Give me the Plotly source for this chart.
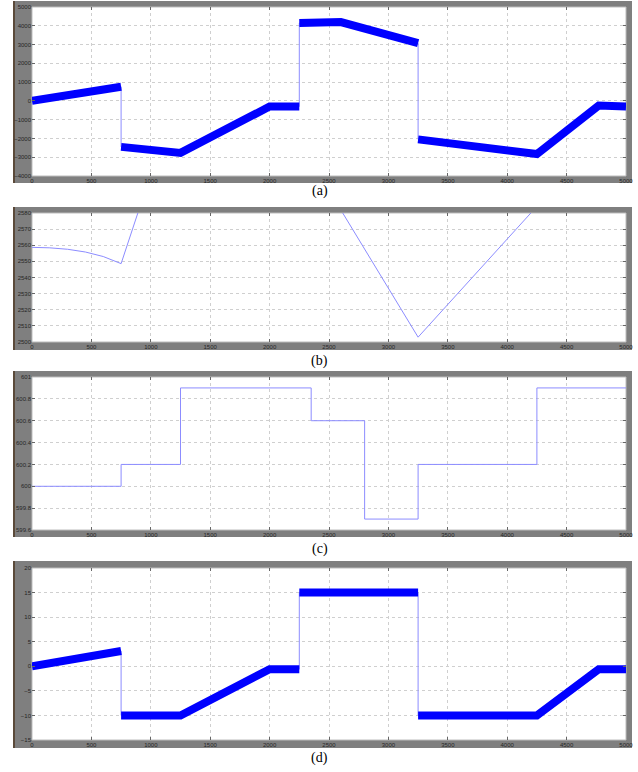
import plotly.graph_objects as go

# ---------------- data ----------------
x_ticks = [0, 500, 1000, 1500, 2000, 2500, 3000, 3500, 4000, 4500, 5000]

# (a)
a_t = [0, 750, 750, 1250, 2000, 2250, 2250, 2400, 2600, 3250, 3250, 4250, 4770, 5000]
a_v = [0, 750, -2450, -2770, -300, -300, 4150, 4200, 4200, 3080, -2050, -2830, -250, -300]
a_ticks = [-4000, -3000, -2000, -1000, 0, 1000, 2000, 3000, 4000, 5000]
a_range = [-4000, 5000]

# (b)
b_t = [0, 150, 300, 450, 600, 750, 1250, 2500, 3250, 5000]
b_v = [2558.7, 2558.4, 2557.5, 2555.8, 2553.0, 2548.6, 2660, 2594, 2503, 2645]
b_ticks = [2500, 2510, 2520, 2530, 2540, 2550, 2560, 2570, 2580]
b_range = [2500, 2580]

# (c)
c_t = [0, 750, 1250, 2350, 2800, 3250, 4250, 5000]
c_v = [600.0, 600.2, 600.9, 600.6, 599.7, 600.2, 600.9, 600.9]
c_ticks = [599.6, 599.8, 600.0, 600.2, 600.4, 600.6, 600.8, 601.0]
c_ticktext = ["599.6", "599.8", "600", "600.2", "600.4", "600.6", "600.8", "601"]
c_range = [599.6, 601]

# (d)
d_t = [0, 750, 750, 1250, 2000, 2250, 2250, 3250, 3250, 4250, 4770, 5000]
d_v = [0, 3.1, -10, -10, -0.6, -0.6, 15, 15, -10, -10, -0.6, -0.6]
d_ticks = [-15, -10, -5, 0, 5, 10, 15, 20]
d_range = [-15, 20]

captions = ["(a)", "(b)", "(c)", "(d)"]

# ---------------- layout geometry (pixels) ----------------
W, H = 638, 772
plot_x = (32, 626)
frame_x = (13, 632)
plots_y = [(7, 176), (213, 342), (377, 530), (568, 740)]
frames_y = [(1, 183), (207, 350), (371, 537), (561, 748)]
caption_y = [191, 361, 549, 758]


def px(x):
    return x / W


def py(y):
    return 1 - y / H


def thick_segments(t, v):
    """Split a path at vertical jumps (equal successive t) into separate pieces."""
    xs, ys = [], []
    for i in range(len(t)):
        if i > 0 and t[i] == t[i - 1]:
            xs.append(None)
            ys.append(None)
        xs.append(t[i])
        ys.append(v[i])
    return xs, ys


fig = go.Figure()

BLUE = "#0000ff"
LIGHT = "#8c8cff"

# (a)
fig.add_trace(go.Scatter(x=a_t, y=a_v, mode="lines", line=dict(color=LIGHT, width=1),
                         xaxis="x", yaxis="y", showlegend=False))
sx, sy = thick_segments(a_t, a_v)
fig.add_trace(go.Scatter(x=sx, y=sy, mode="lines", line=dict(color=BLUE, width=8),
                         xaxis="x", yaxis="y", showlegend=False, connectgaps=False))
# (b)
fig.add_trace(go.Scatter(x=b_t, y=b_v, mode="lines", line=dict(color=LIGHT, width=1),
                         xaxis="x2", yaxis="y2", showlegend=False))
# (c)
fig.add_trace(go.Scatter(x=c_t, y=c_v, mode="lines", line=dict(color=LIGHT, width=1, shape="hv"),
                         xaxis="x3", yaxis="y3", showlegend=False))
# (d)
fig.add_trace(go.Scatter(x=d_t, y=d_v, mode="lines", line=dict(color=LIGHT, width=1),
                         xaxis="x4", yaxis="y4", showlegend=False))
sx, sy = thick_segments(d_t, d_v)
fig.add_trace(go.Scatter(x=sx, y=sy, mode="lines", line=dict(color=BLUE, width=8),
                         xaxis="x4", yaxis="y4", showlegend=False, connectgaps=False))

tick_font = dict(family="Liberation Sans, Arial", size=6, color="#262626")
grid = dict(showgrid=True, gridcolor="#cfcfcf", griddash="dot", gridwidth=1,
            zeroline=False, showline=False, ticks="inside", ticklen=3,
            tickcolor="#666666", tickfont=tick_font, automargin=False)

shapes = []
annotations = []
yspecs = [(a_ticks, None, a_range), (b_ticks, None, b_range),
          (c_ticks, c_ticktext, c_range), (d_ticks, None, d_range)]

layout = dict(width=W, height=H, margin=dict(l=0, r=0, t=0, b=0, autoexpand=False),
              paper_bgcolor="white", plot_bgcolor="rgba(0,0,0,0)")

for i in range(4):
    suf = "" if i == 0 else str(i + 1)
    yd = [py(plots_y[i][1]), py(plots_y[i][0])]
    layout["xaxis" + suf] = dict(domain=[px(plot_x[0]), px(plot_x[1])], range=[0, 5000],
                                 tickvals=x_ticks, anchor="y" + suf, mirror="ticks", **grid)
    tv, tt, rg = yspecs[i]
    yax = dict(domain=yd, range=rg, tickvals=tv, anchor="x" + suf, mirror="ticks", **grid)
    if tt is not None:
        yax["ticktext"] = tt
    layout["yaxis" + suf] = yax
    # gray frame
    shapes.append(dict(type="rect", xref="paper", yref="paper", layer="below",
                       x0=px(frame_x[0]), x1=px(frame_x[1]),
                       y0=py(frames_y[i][1]), y1=py(frames_y[i][0]),
                       fillcolor="#7f7f7f", line=dict(width=0)))
    # dark left strip
    shapes.append(dict(type="rect", xref="paper", yref="paper", layer="below",
                       x0=px(frame_x[0]), x1=px(frame_x[0] + 2),
                       y0=py(frames_y[i][1]), y1=py(frames_y[i][0]),
                       fillcolor="#5b4a3a", line=dict(width=0)))
    # white plot area
    shapes.append(dict(type="rect", xref="paper", yref="paper", layer="below",
                       x0=px(plot_x[0]), x1=px(plot_x[1]),
                       y0=yd[0], y1=yd[1],
                       fillcolor="white", line=dict(width=1, color="#bdbdbd")))
    annotations.append(dict(text=captions[i], xref="paper", yref="paper",
                            x=px(320), y=py(caption_y[i]), showarrow=False,
                            xanchor="center", yanchor="middle",
                            font=dict(family="Liberation Serif, Times New Roman", size=14, color="black")))

layout["shapes"] = shapes
layout["annotations"] = annotations
fig.update_layout(**layout)

fig.write_html("out.html", config={"displayModeBar": False},
               post_script="document.body.style.margin='0';document.body.style.overflow='hidden';")
